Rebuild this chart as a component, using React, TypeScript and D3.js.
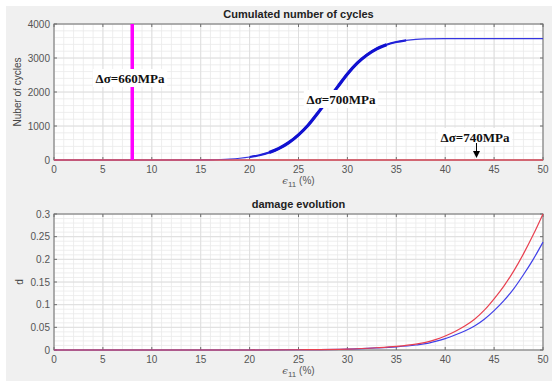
import React from "react";
import * as d3 from "d3";

const W = 552;
const H = 381;

// Top chart data: cumulated number of cycles
const xTicks = [0, 5, 10, 15, 20, 25, 30, 35, 40, 45, 50];
const cyclesTicks = [0, 1000, 2000, 3000, 4000];
const damageTicks = [0, 0.05, 0.1, 0.15, 0.2, 0.25, 0.3];

const strain700 = [0, 10, 15, 16, 17, 18, 19, 20, 21, 22, 23, 24, 25, 26, 27, 28, 29, 30, 31, 32, 33, 34, 35, 36, 37, 38, 40, 45, 50];
const cycles700 = [0, 0, 2, 6, 14, 28, 52, 88, 140, 220, 340, 510, 740, 1030, 1390, 1770, 2150, 2530, 2850, 3090, 3270, 3390, 3470, 3520, 3550, 3562, 3570, 3570, 3570];
const strain740 = [0, 50];
const cycles740 = [0, 0];
const strain660 = 8;
const cycles660 = [0, 4000];

// Bottom chart data: damage evolution
const strainD = [0, 20, 25, 30, 33, 35, 37, 38, 39, 40, 41, 42, 43, 44, 45, 46, 47, 48, 49, 50];
const damageRed = [0, 0, 0.0005, 0.002, 0.005, 0.008, 0.013, 0.017, 0.023, 0.031, 0.041, 0.053, 0.068, 0.088, 0.113, 0.141, 0.174, 0.212, 0.254, 0.3];
const damageBlue = [0, 0, 0.0005, 0.002, 0.0045, 0.007, 0.011, 0.014, 0.019, 0.025, 0.033, 0.042, 0.053, 0.068, 0.087, 0.109, 0.135, 0.166, 0.2, 0.238];

const L = 54, R = 543;
const top1 = 24, bot1 = 160;
const top2 = 214, bot2 = 350;

function Axes({ y0, y1, yDomain, yTicks, yMinorStep, yFmt, title, ylabel }: any) {
  const x = d3.scaleLinear().domain([0, 50]).range([L, R]);
  const y = d3.scaleLinear().domain(yDomain).range([y1, y0]);
  const xMinor = d3.range(0, 50.001, 1);
  const yMinor = d3.range(yDomain[0], yDomain[1] + 1e-9, yMinorStep);
  const axisColor = "#6e6e6e";
  const tickLen = 3;
  return (
    <g>
      <rect x={L} y={y0} width={R - L} height={y1 - y0} fill="#ffffff" />
      {xMinor.map((v, i) => (
        <line key={"xm" + i} x1={x(v)} x2={x(v)} y1={y0} y2={y1} stroke="#eaeaea" strokeWidth={0.8} />
      ))}
      {yMinor.map((v, i) => (
        <line key={"ym" + i} x1={L} x2={R} y1={y(v)} y2={y(v)} stroke="#eaeaea" strokeWidth={0.8} />
      ))}
      {xTicks.map((v, i) => (
        <line key={"xg" + i} x1={x(v)} x2={x(v)} y1={y0} y2={y1} stroke="#dadada" strokeWidth={0.8} />
      ))}
      {yTicks.map((v: number, i: number) => (
        <line key={"yg" + i} x1={L} x2={R} y1={y(v)} y2={y(v)} stroke="#dadada" strokeWidth={0.8} />
      ))}
      <rect x={L} y={y0} width={R - L} height={y1 - y0} fill="none" stroke={axisColor} strokeWidth={1} />
      {xTicks.map((v, i) => (
        <g key={"xt" + i}>
          <line x1={x(v)} x2={x(v)} y1={y1} y2={y1 - tickLen} stroke={axisColor} />
          <line x1={x(v)} x2={x(v)} y1={y0} y2={y0 + tickLen} stroke={axisColor} />
          <text x={x(v)} y={y1 + 13} textAnchor="middle" fontSize={10} fill="#555" fontFamily="Liberation Sans, Arial, sans-serif">{v}</text>
        </g>
      ))}
      {yTicks.map((v: number, i: number) => (
        <g key={"yt" + i}>
          <line x1={L} x2={L + tickLen} y1={y(v)} y2={y(v)} stroke={axisColor} />
          <line x1={R} x2={R - tickLen} y1={y(v)} y2={y(v)} stroke={axisColor} />
          <text x={L - 4} y={y(v) + 3.5} textAnchor="end" fontSize={10} fill="#555" fontFamily="Liberation Sans, Arial, sans-serif">{yFmt(v)}</text>
        </g>
      ))}
      <text x={(L + R) / 2} y={y0 - 6} textAnchor="middle" fontSize={11} fontWeight="bold" fill="#222" fontFamily="Liberation Sans, Arial, sans-serif">{title}</text>
      <text x={(L + R) / 2} y={y1 + 24} textAnchor="middle" fontSize={10} fill="#555" fontFamily="Liberation Sans, Arial, sans-serif">
        <tspan fontFamily="DejaVu Serif, serif" fontStyle="italic">ϵ</tspan>
        <tspan fontSize={8} dy={3}>11</tspan>
        <tspan dy={-3}> (%)</tspan>
      </text>
      <text transform={`translate(${ylabel.x},${(y0 + y1) / 2}) rotate(-90)`} textAnchor="middle" fontSize={10} fill="#444" fontFamily="Liberation Sans, Arial, sans-serif">{ylabel.text}</text>
    </g>
  );
}

function Label({ x, y, text }: any) {
  const w = text.length * 7.6 + 6;
  return (
    <g>
      <rect x={x - w / 2} y={y - 9} width={w} height={18} fill="#ffffff" />
      <text x={x} y={y + 4.5} textAnchor="middle" fontSize={13} fontWeight="bold" fill="#111" fontFamily="Liberation Serif, Times New Roman, serif">{text}</text>
    </g>
  );
}

export default function App() {
  const x = d3.scaleLinear().domain([0, 50]).range([L, R]);
  const yC = d3.scaleLinear().domain([0, 4000]).range([bot1, top1]);
  const yD = d3.scaleLinear().domain([0, 0.3]).range([bot2, top2]);

  const pts700 = strain700.map((s, i) => [s, cycles700[i]] as [number, number]);
  const lineC = d3.line<[number, number]>().x(d => x(d[0])).y(d => yC(d[1])).curve(d3.curveMonotoneX);
  const mid = pts700.filter(d => d[0] >= 20 && d[0] <= 36);
  const thick = pts700.filter(d => d[0] >= 22 && d[0] <= 34);
  const lineD = d3.line<[number, number]>().x(d => x(d[0])).y(d => yD(d[1])).curve(d3.curveMonotoneX);
  const redPts = strainD.map((s, i) => [s, damageRed[i]] as [number, number]);
  const bluePts = strainD.map((s, i) => [s, damageBlue[i]] as [number, number]);

  return (
    <svg width={W} height={H} style={{ position: "absolute", left: 0, top: 0 }}>
      <rect x={0} y={0} width={W} height={H} fill="#ffffff" />
      <rect x={6} y={6} width={W - 6} height={H - 6} fill="#f0f0f0" />
      <Axes y0={top1} y1={bot1} yDomain={[0, 4000]} yTicks={cyclesTicks} yMinorStep={200} yFmt={(v: number) => String(v)} title="Cumulated number of cycles" ylabel={{ x: 21, text: "Nuber of cycles" }} />
      <Axes y0={top2} y1={bot2} yDomain={[0, 0.3]} yTicks={damageTicks} yMinorStep={0.01} yFmt={(v: number) => String(+v.toFixed(2))} title="damage evolution" ylabel={{ x: 23, text: "d" }} />

      {/* top chart series */}
      <path d={lineC(pts700) || ""} fill="none" stroke="#3535e0" strokeWidth={1.2} />
      <path d={lineC(mid) || ""} fill="none" stroke="#2020d8" strokeWidth={2.2} />
      <path d={lineC(thick) || ""} fill="none" stroke="#1010d0" strokeWidth={3.2} />
      <path d={lineC(strain740.map((s, i) => [s, cycles740[i]] as [number, number])) || ""} fill="none" stroke="#e05060" strokeWidth={1.5} />
      <line x1={x(strain660)} x2={x(strain660)} y1={yC(cycles660[0])} y2={yC(cycles660[1])} stroke="#ff00ff" strokeWidth={3.5} />

      <Label x={130} y={78} text="Δσ=660MPa" />
      <Label x={341} y={99} text="Δσ=700MPa" />
      <Label x={475} y={137} text="Δσ=740MPa" />
      <line x1={x(43.2)} x2={x(43.2)} y1={143} y2={152} stroke="#000" strokeWidth={1} />
      <path d={`M${x(43.2) - 3.5},151 L${x(43.2) + 3.5},151 L${x(43.2)},158 Z`} fill="#000" />

      {/* bottom chart series */}
      <path d={lineD(bluePts) || ""} fill="none" stroke="#4040e8" strokeWidth={1.2} />
      <path d={lineD(redPts) || ""} fill="none" stroke="#e84050" strokeWidth={1.2} />
    </svg>
  );
}
